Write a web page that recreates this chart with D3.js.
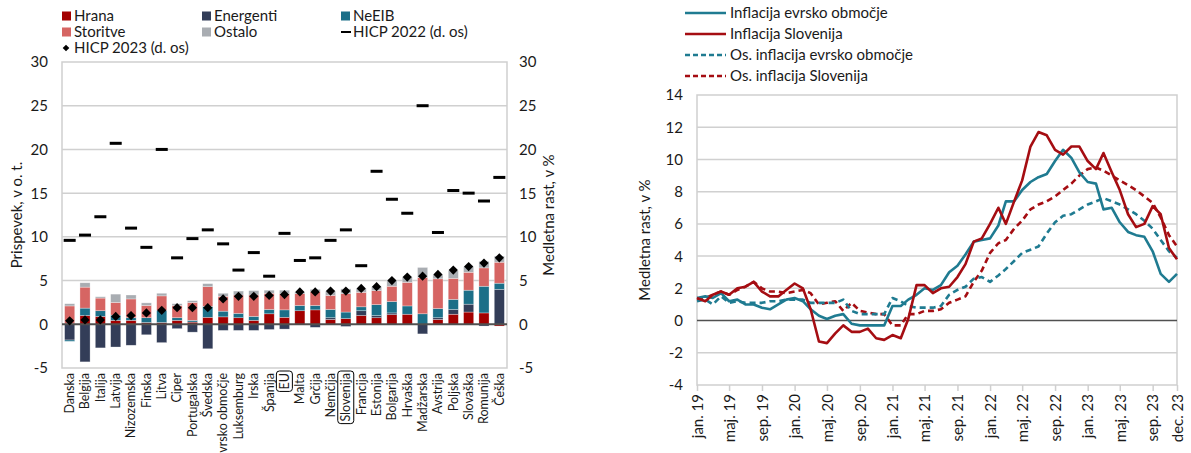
<!DOCTYPE html>
<meta charset="utf-8">
<script src="https://cdn.jsdelivr.net/npm/d3@7"></script>
<title>Inflacija</title>
<style>
  body { margin: 0; background: #fff; }
  svg text { font-family: Lato, "Open Sans", sans-serif; fill: #1a1a1a; }
</style>
<body>
<div id="chart"></div>
<script>
// levi graf: prispevki k inflaciji dec. 2023 (v o. t.), HICP dec. 2022 in dec. 2023
var drzave = ["Danska", "Belgija", "Italija", "Latvija", "Nizozemska", "Finska", "Litva", "Ciper",
  "Portugalska", "Švedska", "Evrsko območje", "Luksemburg", "Irska", "Španija", "EU", "Malta",
  "Grčija", "Nemčija", "Slovenija", "Francija", "Estonija", "Bolgarija", "Hrvaška", "Madžarska",
  "Avstrija", "Poljska", "Slovaška", "Romunija", "Češka"];
var hrana     = [0.1, 1.0, 0.9, 0.45, 0.45, 0.2, 0.2, 0.45, 0.25, 0.8, 0.85, 0.75, 0.45, 1.2, 0.8, 1.55, 1.65, 0.55, 0.65, 1.0, 0.75, 1.1, 1.15, 0, 0.55, 1.15, 1.4, 1.3, -0.2];
var energenti = [-1.8, -4.3, -2.7, -2.6, -2.4, -1.2, -2.1, -0.5, -0.9, -2.8, -0.7, -0.7, -0.7, -0.6, -0.55, 0, -0.35, 0.2, -0.25, 0.55, 0.25, 0.2, 0, -1.1, 0.2, 0.55, 0.9, -0.2, 4.0];
var neeib     = [-0.15, 0.85, 0.65, 0.6, 0.3, 0.55, 1.4, 0.3, 0.2, 1.25, 0.65, 0.5, 0.45, 0.5, 0.85, 0.6, 0.5, 0.95, 0.75, 0.45, 1.25, 1.3, 0.95, 1.2, 1.05, 1.15, 1.6, 3.05, 0.7];
var storitve  = [2.0, 2.4, 1.45, 1.45, 2.15, 1.4, 1.65, 1.4, 2.05, 2.25, 1.7, 2.1, 2.45, 1.85, 1.85, 1.35, 1.6, 1.6, 2.1, 1.65, 1.6, 1.75, 2.7, 4.15, 3.4, 2.4, 2.05, 2.1, 2.4];
var ostalo    = [0.25, 0.5, 0.15, 0.95, 0.45, 0.3, 0.3, 0.2, 0.2, 0.35, 0.35, 0.45, 0.5, 0.35, 0.4, 0.2, 0.25, 0.5, 0.55, 0.45, 0.45, 0.65, 0.6, 1.15, 0.45, 0.9, 0.65, 0.75, 0.7];
var hicp2023  = [0.4, 0.5, 0.5, 0.9, 1.0, 1.3, 1.6, 1.9, 1.9, 1.9, 2.9, 3.2, 3.2, 3.3, 3.4, 3.7, 3.7, 3.8, 3.8, 4.1, 4.3, 5.0, 5.4, 5.5, 5.7, 6.2, 6.6, 7.0, 7.6];
var hicp2022  = [9.6, 10.2, 12.3, 20.7, 11.0, 8.8, 20.0, 7.6, 9.8, 10.8, 9.2, 6.2, 8.2, 5.5, 10.4, 7.3, 7.6, 9.6, 10.8, 6.7, 17.5, 14.3, 12.7, 25.0, 10.5, 15.3, 15.0, 14.1, 16.8];
var komponente = ["Hrana", "Energenti", "NeEIB", "Storitve", "Ostalo"];
var barve = ["#a30000", "#333d58", "#1b6f88", "#d66563", "#a9adb2"];
var levaOs = [-5, 0, 5, 10, 15, 20, 25, 30];

// desni graf: medletna rast, v %
var zacetek = "2019-01", konec = "2023-12";
var infEA = [1.4, 1.5, 1.4, 1.7, 1.2, 1.3, 1.0, 1.0, 0.8, 0.7, 1.0, 1.3,
  1.4, 1.2, 0.7, 0.3, 0.1, 0.3, 0.4, -0.2, -0.3, -0.3, -0.3, -0.3,
  0.9, 0.9, 1.3, 1.6, 2.0, 1.9, 2.2, 3.0, 3.4, 4.1, 4.9, 5.0,
  5.1, 5.9, 7.4, 7.4, 8.1, 8.6, 8.9, 9.1, 9.9, 10.6, 10.1, 9.2,
  8.6, 8.5, 6.9, 7.0, 6.1, 5.5, 5.3, 5.2, 4.3, 2.9, 2.4, 2.9];
var infSI = [1.4, 1.2, 1.6, 1.8, 1.6, 2.0, 2.1, 2.4, 1.8, 1.5, 1.5, 1.9,
  2.3, 2.0, 0.7, -1.3, -1.4, -0.8, -0.3, -0.7, -0.7, -0.5, -1.1, -1.2,
  -0.9, -1.1, 0.1, 2.2, 2.2, 1.7, 2.0, 2.1, 2.7, 3.5, 4.9, 5.1,
  6.0, 7.0, 6.0, 7.4, 8.7, 10.8, 11.7, 11.5, 10.6, 10.3, 10.8, 10.8,
  9.9, 9.4, 10.4, 9.2, 8.1, 6.6, 5.8, 6.0, 7.1, 6.6, 4.5, 3.8];
var osnEA = [1.2, 1.3, 1.0, 1.5, 1.1, 1.2, 1.1, 1.1, 1.1, 1.2, 1.2, 1.3,
  1.3, 1.3, 1.1, 1.1, 1.1, 1.1, 1.3, 0.6, 0.4, 0.4, 0.4, 0.4,
  1.4, 1.2, 0.9, 0.8, 0.8, 0.8, 0.9, 1.6, 1.9, 2.1, 2.6, 2.7,
  2.4, 2.8, 3.2, 3.7, 4.2, 4.4, 4.6, 5.4, 6.1, 6.5, 6.6, 6.9,
  7.2, 7.4, 7.6, 7.4, 7.2, 6.9, 6.6, 6.2, 5.7, 5.0, 4.3, 3.9];
var osnSI = [1.3, 1.4, 1.6, 1.8, 1.6, 1.9, 2.1, 2.4, 2.0, 1.8, 1.8, 1.7,
  1.8, 1.9, 1.7, 1.0, 1.1, 1.2, 0.6, 1.1, 0.6, 0.5, 0.4, 0.4,
  -0.3, -0.3, 0.4, 0.4, 0.6, 0.6, 0.7, 1.1, 1.3, 1.5, 2.4, 3.1,
  4.2, 4.8, 5.0, 5.7, 6.2, 6.9, 7.2, 7.4, 7.7, 8.1, 8.5, 9.0,
  9.4, 9.5, 9.3, 9.0, 8.7, 8.4, 8.1, 7.7, 7.3, 6.4, 5.3, 4.6];
var serije = ["Inflacija evrsko območje", "Inflacija Slovenija", "Os. inflacija evrsko območje", "Os. inflacija Slovenija"];
var oznakeX = ["jan. 19", "maj. 19", "sep. 19", "jan. 20", "maj. 20", "sep. 20", "jan. 21", "maj. 21",
  "sep. 21", "jan. 22", "maj. 22", "sep. 22", "jan. 23", "maj. 23", "sep. 23", "dec. 23"];
var desnaOs = [-4, -2, 0, 2, 4, 6, 8, 10, 12, 14];

var svg = d3.select("#chart").append("svg")
  .attr("width", 1191).attr("height", 453);
svg.append("rect").attr("width", 1191).attr("height", 453).attr("fill", "#fff");

// ---------- levi graf ----------
var L = {left: 62, right: 507, top: 62, bottom: 368};
var x = d3.scaleBand().domain(drzave).range([L.left, L.right]).paddingInner(0.34).paddingOuter(0.17);
var y = d3.scaleLinear().domain([-5, 30]).range([L.bottom, L.top]);

var lg = svg.append("g");
lg.selectAll(".grid").data(levaOs.filter(function(d) { return d > -5 && d < 30 && d != 0; }))
  .enter().append("line")
    .attr("x1", L.left).attr("x2", L.right)
    .attr("y1", function(d) { return y(d); }).attr("y2", function(d) { return y(d); })
    .attr("stroke", "#d0d0d0").attr("stroke-width", 1.5);
lg.append("rect")
  .attr("x", L.left).attr("y", L.top)
  .attr("width", L.right - L.left).attr("height", L.bottom - L.top)
  .attr("fill", "none").attr("stroke", "#cfcfcf").attr("stroke-width", 1.5);

var tabela = drzave.map(function(d, i) {
  return {drzava: d, Hrana: hrana[i], Energenti: energenti[i], NeEIB: neeib[i], Storitve: storitve[i], Ostalo: ostalo[i]};
});
var stack = d3.stack().keys(komponente).offset(d3.stackOffsetDiverging);
var sloji = stack(tabela);

lg.selectAll(".sloj").data(sloji).enter().append("g")
    .attr("fill", function(d, i) { return barve[i]; })
  .selectAll("rect").data(function(d) { return d; }).enter().append("rect")
    .attr("x", function(d) { return x(d.data.drzava); })
    .attr("width", x.bandwidth())
    .attr("y", function(d) { return y(Math.max(d[0], d[1])); })
    .attr("height", function(d) { return Math.abs(y(d[0]) - y(d[1])); })
    .attr("stroke", "#ffffff").attr("stroke-opacity", 0.5).attr("stroke-width", 0.6);

lg.append("line")
  .attr("x1", L.left).attr("x2", L.right)
  .attr("y1", y(0)).attr("y2", y(0))
  .attr("stroke", "#505050").attr("stroke-width", 2);

// HICP 2022 crtice
lg.selectAll(".h22").data(hicp2022).enter().append("rect")
  .attr("x", function(d, i) { return x(drzave[i]) + x.bandwidth() / 2 - 6; })
  .attr("y", function(d) { return y(d) - 1.5; })
  .attr("width", 12).attr("height", 3)
  .attr("fill", "#000");

// HICP 2023 rombi
lg.selectAll(".h23").data(hicp2023).enter().append("path")
  .attr("d", "M0,-4.6L4.6,0L0,4.6L-4.6,0Z")
  .attr("transform", function(d, i) { return "translate(" + (x(drzave[i]) + x.bandwidth() / 2) + "," + y(d) + ")"; })
  .attr("fill", "#000");

// osi
lg.selectAll(".ylab").data(levaOs).enter().append("text")
  .attr("x", 48).attr("y", function(d) { return y(d); }).attr("dy", "0.36em")
  .attr("text-anchor", "end").style("font-size", "15px")
  .text(function(d) { return d; });
lg.selectAll(".ylab2").data(levaOs).enter().append("text")
  .attr("x", 519).attr("y", function(d) { return y(d); }).attr("dy", "0.36em")
  .attr("text-anchor", "start").style("font-size", "15px")
  .text(function(d) { return d; });
lg.append("text")
  .attr("transform", "translate(17," + ((L.top + L.bottom) / 2) + ") rotate(-90)")
  .attr("dy", "0.35em").attr("text-anchor", "middle").style("font-size", "15px")
  .text("Prispevek, v o. t.");
lg.append("text")
  .attr("transform", "translate(549," + ((L.top + L.bottom) / 2) + ") rotate(-90)")
  .attr("dy", "0.35em").attr("text-anchor", "middle").style("font-size", "15px")
  .text("Medletna rast, v %");

var kat = lg.selectAll(".kat").data(drzave).enter().append("g")
  .attr("transform", function(d) { return "translate(" + (x(d) + x.bandwidth() / 2) + "," + (L.bottom + 5) + ") rotate(-90)"; });
kat.append("text")
  .attr("text-anchor", "end").attr("dy", "0.35em")
  .style("font-size", "12.5px")
  .text(function(d) { return d; });
kat.filter(function(d) { return d == "EU" || d == "Slovenija"; })
  .each(function() {
    var b = d3.select(this).select("text").node().getBBox();
    d3.select(this).append("rect")
      .attr("x", b.x - 2).attr("y", b.y - 0.5)
      .attr("width", b.width + 4).attr("height", b.height + 1)
      .attr("rx", 3).attr("fill", "none").attr("stroke", "#000").attr("stroke-width", 1);
  });

// legenda levo
var legPoz = [[62, 16], [202, 16], [341, 16], [62, 32], [202, 32]];
komponente.forEach(function(k, i) {
  lg.append("rect").attr("x", legPoz[i][0]).attr("y", legPoz[i][1] - 4.5)
    .attr("width", 9).attr("height", 9).attr("fill", barve[i]);
  lg.append("text").attr("x", legPoz[i][0] + 12).attr("y", legPoz[i][1]).attr("dy", "0.35em")
    .style("font-size", "15px").text(k);
});
lg.append("rect").attr("x", 341).attr("y", 31).attr("width", 10).attr("height", 2).attr("fill", "#000");
lg.append("text").attr("x", 353).attr("y", 32).attr("dy", "0.35em").style("font-size", "15px").text("HICP 2022 (d. os)");
lg.append("path").attr("d", "M0,-3.3L3.3,0L0,3.3L-3.3,0Z").attr("transform", "translate(66,48)").attr("fill", "#000");
lg.append("text").attr("x", 74).attr("y", 48).attr("dy", "0.35em").style("font-size", "15px").text("HICP 2023 (d. os)");

// ---------- desni graf ----------
var R = {left: 697, right: 1177, top: 95, bottom: 385};
var meseci = d3.timeMonth.range(d3.timeParse("%Y-%m")(zacetek), d3.timeMonth.offset(d3.timeParse("%Y-%m")(konec), 1));
var mImena = {"jan.": 0, "feb.": 1, "mar.": 2, "apr.": 3, "maj.": 4, "jun.": 5, "jul.": 6, "avg.": 7, "sep.": 8, "okt.": 9, "nov.": 10, "dec.": 11};
var tickDatumi = oznakeX.map(function(s) {
  var p = s.split(" ");
  return new Date(2000 + (+p[1]), mImena[p[0]], 1);
});
var x2 = d3.scaleTime().domain([meseci[0], meseci[meseci.length - 1]]).range([R.left, R.right]);
var y2 = d3.scaleLinear().domain([-4, 14]).range([R.bottom, R.top]);

var rg = svg.append("g");
rg.selectAll(".grid").data(desnaOs.filter(function(d) { return d > -4 && d < 14 && d != 0; }))
  .enter().append("line")
    .attr("x1", R.left).attr("x2", R.right)
    .attr("y1", function(d) { return y2(d); }).attr("y2", function(d) { return y2(d); })
    .attr("stroke", "#d0d0d0").attr("stroke-width", 1.5);
rg.append("rect")
  .attr("x", R.left).attr("y", R.top)
  .attr("width", R.right - R.left).attr("height", R.bottom - R.top)
  .attr("fill", "none").attr("stroke", "#cfcfcf").attr("stroke-width", 1.5);
rg.append("line")
  .attr("x1", R.left).attr("x2", R.right)
  .attr("y1", y2(0)).attr("y2", y2(0))
  .attr("stroke", "#505050").attr("stroke-width", 1.5);

var xAxis = rg.append("g")
  .attr("transform", "translate(0," + R.bottom + ")")
  .call(d3.axisBottom(x2).tickValues(tickDatumi).tickSize(6).tickFormat(function(d, i) { return oznakeX[i]; }));
xAxis.select(".domain").remove();
xAxis.selectAll("line").attr("stroke", "#cfcfcf").attr("stroke-width", 1.5);
xAxis.selectAll("text")
  .attr("transform", "rotate(-90)")
  .attr("x", -9).attr("y", 0).attr("dy", "0.35em")
  .attr("text-anchor", "end")
  .style("font-size", "15px").style("font-family", "Lato, 'Open Sans', sans-serif").attr("fill", "#1a1a1a");

rg.selectAll(".ylab").data(desnaOs).enter().append("text")
  .attr("x", 683).attr("y", function(d) { return y2(d); }).attr("dy", "0.36em")
  .attr("text-anchor", "end").style("font-size", "15px")
  .text(function(d) { return d; });
rg.append("text")
  .attr("transform", "translate(645," + ((R.top + R.bottom) / 2) + ") rotate(-90)")
  .attr("dy", "0.35em").attr("text-anchor", "middle").style("font-size", "15px")
  .text("Medletna rast, v %");

var linije = [
  {ime: serije[0], vals: infEA, barva: "#1f7b91", crta: null},
  {ime: serije[1], vals: infSI, barva: "#a50d12", crta: null},
  {ime: serije[2], vals: osnEA, barva: "#1f7b91", crta: "6,4"},
  {ime: serije[3], vals: osnSI, barva: "#a50d12", crta: "6,4"}
];
var line = d3.line()
  .x(function(d, i) { return x2(meseci[i]); })
  .y(function(d) { return y2(d); });

[3, 2, 0, 1].forEach(function(k) {
  var s = linije[k];
  rg.append("path")
    .attr("d", line(s.vals))
    .attr("fill", "none").attr("stroke", s.barva).attr("stroke-width", 2.6)
    .attr("stroke-linejoin", "round")
    .attr("stroke-dasharray", s.crta);
});

linije.forEach(function(s, i) {
  var yy = 13 + i * 21;
  rg.append("line").attr("x1", 685).attr("x2", 726).attr("y1", yy).attr("y2", yy)
    .attr("stroke", s.barva).attr("stroke-width", 2.6).attr("stroke-dasharray", s.crta ? "5,3" : null);
  rg.append("text").attr("x", 730).attr("y", yy).attr("dy", "0.35em")
    .style("font-size", "15px").text(s.ime);
});
</script>
</body>
